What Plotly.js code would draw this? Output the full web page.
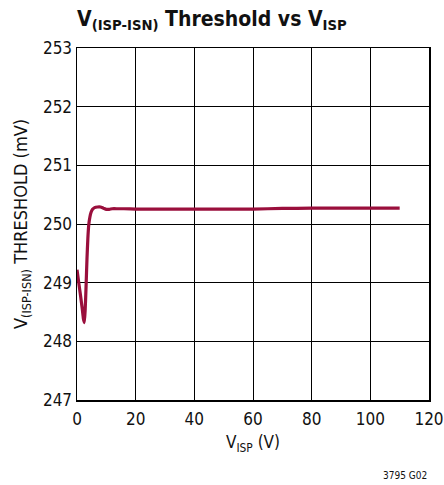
<!DOCTYPE html>
<html>
<head>
<meta charset="utf-8">
<script src="https://cdn.plot.ly/plotly-3.0.1.min.js"></script>
<style>html,body{margin:0;padding:0;background:#fff;}#chart{width:444px;height:485px;}</style>
</head>
<body>
<div id="chart"></div>
<script>
const vispValues = [0, 0.6, 1.2, 1.8, 2.2, 2.5, 2.8, 3.1, 3.4, 3.7, 4.0, 4.4, 4.8, 5.3, 6, 7, 8, 9, 10, 11, 12, 14, 16, 20, 30, 40, 50, 60, 70, 80, 90, 100, 110];
const thresholdValues = [249.22, 249.0, 248.78, 248.55, 248.38, 248.32, 248.55, 248.95, 249.4, 249.75, 249.98, 250.12, 250.2, 250.25, 250.28, 250.29, 250.29, 250.27, 250.25, 250.25, 250.26, 250.26, 250.26, 250.255, 250.255, 250.255, 250.255, 250.255, 250.265, 250.27, 250.27, 250.27, 250.27];
const xTickValues = [0, 20, 40, 60, 80, 100, 120];
const yTickValues = [247, 248, 249, 250, 251, 252, 253];

const FONT = '"Liberation Sans Narrow", "DejaVu Sans Condensed", "Roboto", sans-serif';

const trace = {
  x: vispValues,
  y: thresholdValues,
  type: 'scatter',
  mode: 'lines',
  line: {color: '#9a0f3c', width: 3.2, shape: 'spline', smoothing: 0.6},
  hoverinfo: 'skip'
};

const layout = {
  width: 444,
  height: 485,
  margin: {l: 77, r: 15, t: 48, b: 85},
  paper_bgcolor: '#ffffff',
  plot_bgcolor: '#ffffff',
  showlegend: false,
  font: {family: FONT, color: '#111', size: 16},
  title: {
    text: '<b>V<sub>(ISP-ISN)</sub> Threshold vs V<sub>ISP</sub></b>',
    x: 0, xref: 'paper', xanchor: 'left',
    y: 0.962, yanchor: 'middle',
    font: {family: FONT, size: 21, color: '#111'}
  },
  xaxis: {
    range: [0, 120],
    tickvals: xTickValues,
    ticks: '',
    ticklabelstandoff: 3,
    showgrid: true, gridcolor: '#000', gridwidth: 1,
    showline: true, linecolor: '#000', linewidth: 1.5, mirror: true,
    zeroline: false,
    tickfont: {family: FONT, size: 17, color: '#111'},
    title: {text: 'V<sub>ISP</sub> (V)', font: {family: FONT, size: 17, color: '#111'}, standoff: 8}
  },
  yaxis: {
    range: [247, 253],
    tickvals: yTickValues,
    ticks: '',
    showgrid: true, gridcolor: '#000', gridwidth: 1,
    showline: true, linecolor: '#000', linewidth: 1.5, mirror: true,
    zeroline: false,
    tickfont: {family: FONT, size: 17, color: '#111'},
    title: {text: 'V<sub>(ISP-ISN)</sub> THRESHOLD (mV)', font: {family: FONT, size: 18, color: '#111'}, standoff: 10}
  },
  annotations: [{
    text: '3795 G02',
    xref: 'paper', yref: 'paper',
    x: 1.0, y: -0.215, xanchor: 'right', yanchor: 'middle',
    showarrow: false,
    font: {family: FONT, size: 10, color: '#111'}
  }]
};

Plotly.newPlot('chart', [trace], layout, {staticPlot: true, displayModeBar: false});
</script>
</body>
</html>
